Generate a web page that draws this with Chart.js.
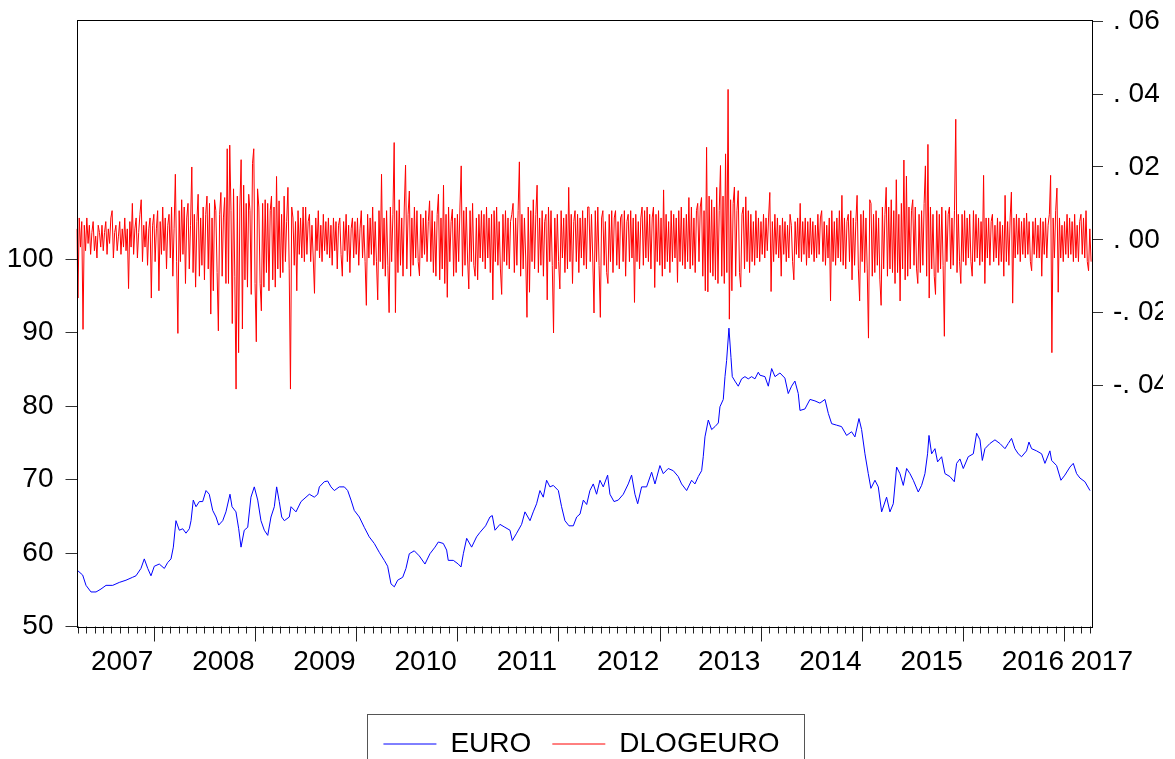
<!DOCTYPE html>
<html>
<head>
<meta charset="utf-8">
<script src="https://cdn.jsdelivr.net/npm/chart.js"></script>
<style>
  html, body { margin: 0; padding: 0; background: #fff; }
  #wrap { width: 1175px; height: 759px; overflow: hidden; }
  canvas { display: block; }
</style>
</head>
<body>
<div id="wrap"><canvas id="c" width="1175" height="759"></canvas></div>
<script>
// ---------- DATA ----------
const yearLabels = ['2007','2008','2009','2010','2011','2012','2013','2014','2015','2016','2017'];
const leftTicks = [50, 60, 70, 80, 90, 100];
const rightTicks = [-0.04, -0.02, 0, 0.02, 0.04, 0.06];
const rightTickLabels = ['-. 04', '-. 02', '. 00', '. 02', '. 04', '. 06'];

// EURO (left axis) sampled dates (fractional years) and values
const euroYears = [
2007.250,2007.299,2007.332,2007.381,2007.431,2007.480,2007.530,2007.596,2007.661,2007.727,2007.793,2007.826,2007.875,2007.908,2007.942,2007.974,
2008.007,2008.056,2008.106,2008.139,2008.172,2008.195,2008.221,2008.254,2008.288,2008.320,2008.353,2008.370,2008.392,2008.419,2008.452,2008.485,
2008.518,2008.550,2008.584,2008.617,2008.643,2008.683,2008.715,2008.755,2008.775,2008.814,2008.841,2008.864,2008.896,2008.930,2008.962,2008.995,
2009.029,2009.061,2009.094,2009.128,2009.160,2009.193,2009.216,2009.242,2009.266,2009.292,2009.341,2009.358,2009.407,2009.457,2009.506,2009.539,
2009.588,2009.622,2009.638,2009.687,2009.720,2009.753,2009.786,2009.835,2009.885,2009.918,2009.951,2009.983,2010.033,2010.082,2010.131,2010.181,
2010.230,2010.280,2010.313,2010.346,2010.379,2010.412,2010.462,2010.494,2010.527,2010.576,2010.626,
2010.682,2010.731,2010.781,2010.814,2010.863,2010.896,2010.912,2010.962,2011.011,2011.038,2011.061,2011.094,2011.143,2011.192,2011.225,2011.281,
2011.324,2011.347,2011.374,2011.423,2011.472,2011.522,2011.545,2011.588,2011.637,2011.670,2011.720,2011.752,2011.785,2011.818,2011.851,2011.884,
2011.917,2011.950,2012.000,2012.032,2012.065,2012.105,2012.148,2012.181,2012.214,2012.247,2012.280,2012.312,2012.345,2012.378,2012.411,2012.444,
2012.487,2012.510,2012.550,2012.592,2012.642,2012.691,2012.724,2012.757,2012.784,2012.823,2012.872,2012.922,2012.955,2013.004,2013.037,2013.086,
2013.136,2013.185,2013.218,2013.268,2013.317,2013.350,2013.383,2013.416,2013.432,2013.449,2013.482,2013.515,2013.548,2013.581,2013.597,2013.630,
2013.647,2013.663,2013.686,2013.706,2013.719,2013.745,2013.778,2013.811,2013.844,2013.877,2013.910,2013.943,2013.976,
2013.992,2014.042,2014.075,2014.108,2014.141,2014.190,2014.239,2014.272,2014.305,2014.338,2014.371,2014.388,2014.437,2014.487,2014.536,2014.585,
2014.635,2014.668,2014.701,2014.750,2014.799,2014.849,2014.898,2014.931,2014.971,2014.997,2015.030,2015.063,2015.089,2015.129,2015.162,2015.195,
2015.244,2015.277,2015.310,2015.343,2015.376,2015.409,2015.442,2015.475,2015.508,2015.557,2015.590,2015.623,2015.649,2015.663,2015.689,2015.722,
2015.748,2015.788,2015.821,2015.870,2015.913,2015.936,2015.969,2016.002,2016.051,2016.101,2016.134,2016.167,2016.190,2016.216,2016.265,2016.315,
2016.364,2016.414,2016.446,2016.479,2016.512,2016.545,2016.578,2016.627,2016.651,2016.677,2016.726,2016.776,2016.809,2016.858,2016.875,2016.924,
2016.967,2017.006,2017.056,2017.089,2017.122,2017.155,2017.204,2017.254
];
const euroValues = [
57.6,57.0,55.6,54.7,54.7,55.1,55.6,55.6,56.0,56.3,56.7,56.9,57.9,59.2,57.9,56.9,
58.2,58.5,57.9,58.7,59.2,60.8,64.4,63.1,63.3,62.7,63.3,64.4,67.2,66.3,67.0,67.0,
68.5,68.0,65.8,64.9,63.8,64.4,65.6,68.0,66.3,65.6,63.3,60.8,63.1,63.5,67.6,69.0,
67.2,64.4,63.1,62.4,64.9,66.3,69.0,67.0,64.9,64.4,64.9,66.3,65.6,67.0,67.6,68.0,
67.6,68.0,69.0,69.7,69.8,69.0,68.5,69.0,69.0,68.5,67.2,65.8,64.9,63.5,62.2,61.3,
60.1,59.0,58.2,55.8,55.4,56.3,56.7,57.9,59.9,60.3,59.6,
58.5,59.9,60.8,61.5,61.3,60.4,59.0,59.0,58.5,58.1,59.9,62.0,60.8,62.2,62.8,63.7,
64.9,65.1,63.1,63.9,63.5,63.1,61.7,62.7,63.9,65.6,64.4,65.6,66.7,68.5,67.6,69.9,
69.0,69.2,68.5,66.3,64.4,63.7,63.7,64.9,65.3,67.2,66.6,68.5,69.4,68.0,69.9,69.0,
70.6,68.0,67.0,67.2,68.0,69.4,70.6,68.0,66.7,69.0,69.0,71.0,69.4,71.9,70.8,71.5,
71.2,70.4,69.4,68.5,69.9,69.4,70.4,71.2,73.1,75.8,78.1,76.8,77.2,77.7,79.9,80.9,
84.0,86.2,90.6,86.6,84.0,83.4,82.7,83.7,84.0,83.7,84.0,83.7,84.6,
84.2,84.0,82.7,85.1,84.0,84.5,83.8,81.7,82.7,83.4,81.7,79.4,79.6,80.9,80.7,80.4,
80.9,79.0,77.6,77.4,77.2,76.0,76.5,75.8,78.3,76.8,73.5,70.8,68.8,69.9,69.0,65.6,
67.6,65.6,66.7,71.7,70.8,69.2,71.5,70.8,69.9,68.3,69.2,70.8,73.5,76.0,73.5,74.2,
72.4,73.1,70.8,70.4,69.7,72.2,72.8,71.5,73.1,73.5,76.3,75.4,72.6,74.2,74.9,75.4,
74.9,74.2,74.9,75.6,74.2,73.5,73.1,73.9,75.1,74.2,73.9,73.5,72.2,73.9,72.6,71.9,
69.9,70.6,71.7,72.2,70.8,70.2,69.7,68.5
];

// DLOGEURO (right axis): regular samples starting at dlogStart, every dlogStep years
const dlogStart = 2007.24;
const dlogStep = 0.0125;
const dlogEuro = [
.003,-.016,.006,-.002,.005,-.0246,.004,-.003,.006,-.001,.004,-.004,.002,.005,-.003,.001,-.005,.004,.002,-.002,
.004,-.003,.002,.005,-.004,.003,-.001,.006,.008,-.005,.002,.004,-.003,.001,.005,-.004,.003,-.002,.006,-.003,
.003,-.0134,.005,-.002,.010,-.004,.003,.006,-.005,.002,.007,.011,-.006,.004,-.002,.005,-.007,.003,.006,-.016,
.004,.007,-.006,.003,.008,-.014,.005,-.004,.009,-.003,.006,-.008,.004,.007,-.005,.009,-.010,.003,.018,-.006,
-.0257,.008,-.006,.011,-.004,.009,-.012,.006,.010,-.008,.004,.020,-.009,.007,-.013,.005,.0125,-.010,.006,-.007,
.009,-.011,.007,.012,-.008,.010,-.0204,.006,-.014,.011,.008,-.009,-.025,.007,.013,-.010,.006,.0116,-.012,.025,
-.012,.026,.008,-.023,.014,-.010,-.041,.012,-.031,.009,.022,-.0245,.015,-.011,.010,-.013,.0125,.008,-.015,.021,
.025,-.012,-.028,.014,.009,-.012,-.0195,.010,-.013,.011,-.009,.010,-.014,.008,.012,-.011,.009,-.013,.0174,-.008,
.0107,-.0104,.007,-.009,.012,-.006,.005,.0144,-.008,-.041,.009,.006,-.007,.005,-.014,.008,-.004,.006,-.005,.009,
-.006,.009,-.004,.005,.007,-.006,.004,-.005,-.0147,.006,-.003,.008,-.005,.004,-.006,.007,-.003,.005,-.004,.006,
-.005,.004,-.007,.006,-.003,.005,-.008,.004,.006,-.004,-.010,.005,-.003,.007,-.006,.004,-.009,.003,.006,-.005,
.005,-.004,.006,-.007,.003,.008,-.005,.004,-.006,-.018,.007,-.005,.006,-.004,.009,-.007,.005,-.006,-.0165,.008,
-.006,.018,-.008,.006,-.010,.008,-.007,-.020,.009,-.006,.007,.0267,-.020,.008,-.009,.011,-.007,.006,-.010,.009,
.0205,-.008,.007,.0134,-.010,.006,-.007,.009,-.005,.008,-.006,-.0099,.007,-.005,.006,-.004,.008,-.006,.005,.0107,
-.006,.008,-.009,.005,-.010,.007,.0125,-.011,.006,-.008,.015,-.012,.007,-.0158,.009,-.006,.005,.0084,-.010,.006,
-.009,.007,-.006,.009,.0203,-.010,.008,-.007,.009,-.005,-.0135,.008,-.006,.010,-.007,-.010,.006,-.011,.007,-.005,
.008,-.006,.007,-.008,.009,-.005,.006,-.009,.007,-.0165,.008,-.006,.009,-.007,.005,-.008,-.015,.007,-.006,.008,
-.007,.006,-.008,.005,.007,.010,-.009,.006,-.007,.008,.0214,-.010,.007,-.008,.006,-.005,-.0213,.009,-.0144,.008,
-.006,.011,-.008,.007,.015,-.009,.006,-.007,.008,-.010,.005,.007,-.0165,.009,-.006,.008,-.007,-.0256,.006,-.008,
.007,-.006,-.0135,.008,-.005,.006,-.009,.007,-.008,.0144,-.006,.007,-.012,.005,.008,-.006,.007,-.009,.006,-.005,
.008,-.007,.006,-.008,.009,.009,-.006,.007,-.005,-.0201,.008,-.006,.009,-.007,-.0213,.006,.008,-.007,.005,-.009,
-.012,.007,-.006,.008,-.009,.006,.008,-.007,.005,-.008,.006,.007,-.006,.008,-.010,.005,.007,-.006,.008,-.005,
.006,-.0172,.007,-.006,.005,-.008,.006,.009,-.007,.008,-.005,.009,-.006,.007,-.008,.006,.009,-.0131,.007,-.006,
.008,-.007,.006,-.010,.0137,-.008,.007,-.006,.005,-.009,.008,-.006,.007,-.005,.006,-.0117,.008,-.006,.009,-.007,
.006,-.008,.007,-.006,.0116,-.008,.009,-.007,.006,-.009,.008,.010,-.006,.009,.0116,-.010,.008,-.014,.0254,-.0143,
.012,-.009,.011,-.010,.009,-.011,.0144,-.012,.008,.0204,-.010,.012,-.012,.0236,-.009,.0413,-.0218,.011,-.014,.010,
.0145,-.010,.008,.0135,-.009,-.013,.007,.009,-.008,.0118,-.006,.008,-.009,.007,-.006,.005,-.007,.008,-.005,.006,
-.006,.005,-.004,.007,-.005,.006,-.003,.006,.013,-.0142,.005,-.006,.007,-.004,.006,-.005,.004,-.010,.006,-.004,
.005,-.006,.004,-.005,.007,.004,-.006,-.011,.005,-.004,.006,-.005,.010,-.006,.005,-.004,.006,-.007,.005,-.005,
.006,-.004,.005,-.006,.004,-.005,.007,-.004,.006,.008,-.006,.005,-.007,.004,-.005,.006,-.0168,.008,-.006,.005,
-.007,.006,-.005,.008,-.006,.0122,-.007,.006,-.008,.005,.007,-.006,.008,-.011,.006,-.007,.005,.0122,-.008,-.0168,
.007,-.006,.008,-.009,.006,-.008,-.027,.011,.010,-.010,.007,-.009,.008,-.007,.006,-.011,-.018,.009,-.008,.007,
.0144,-.010,.009,-.008,.011,-.009,.008,-.012,.0165,-.009,.007,-.0168,.010,-.008,.0219,-.011,.0175,-.010,.009,-.008,
.008,.011,-.007,.009,-.008,-.012,.007,-.009,.008,-.007,.010,.0203,-.010,.0262,-.016,.009,-.008,.007,-.010,-.015,
.008,-.009,.007,-.008,.009,-.007,-.0265,.008,-.006,.007,.009,-.008,.006,-.007,.008,.0331,-.009,.007,-.006,-.012,
.007,-.006,.008,-.007,.006,-.005,.007,-.006,-.010,.008,-.006,.007,-.005,.006,-.007,.005,-.006,.0177,-.012,.006,
-.005,.006,-.007,.005,.007,-.006,.004,-.005,.006,-.007,.005,-.006,.004,-.010,.0122,-.006,.005,-.007,.006,.0131,
-.0174,.006,-.005,.007,-.004,.006,-.006,.005,-.004,.006,-.005,.0073,-.004,.005,-.006,-.0085,.005,-.004,.006,-.005,
.004,-.005,.006,-.010,.005,-.004,.006,-.005,.004,.007,.0177,-.031,.006,-.005,.008,.0142,-.0144,.006,-.005,.004,
-.006,.005,-.004,.007,-.005,.006,-.004,.005,-.006,.007,-.005,.004,-.006,.005,.007,-.004,.006,-.005,.008,-.006,
-.0085,.003,-.006
];

// ---------- CHART ----------
const FONT = "'Liberation Sans', Arial, Helvetica, sans-serif";
Chart.defaults.font.family = FONT;
Chart.defaults.color = '#000';

const xMin = 2007.238, xMax = 2017.274;
// each year label is right-aligned to the following January tick; the last one sits after its tick
const labelHalfYears = 0.311;
const xLabelValues = yearLabels.map((y, i) =>
  i < yearLabels.length - 1 ? Number(y) + 1 - labelHalfYears : Number(y) + 0.06 + labelHalfYears);

const noPad = s => { s.paddingTop = 0; s.paddingBottom = 0; s.paddingLeft = 0; s.paddingRight = 0; };

const framePlugin = {
  id: 'frame',
  afterDraw(chart) {
    const { ctx, chartArea: a, scales } = chart;
    const xs = scales.x;
    ctx.save();
    ctx.lineWidth = 1;
    // month / year tick marks on the time axis
    ctx.strokeStyle = '#222';
    ctx.beginPath();
    for (let y = Math.floor(xs.min); y <= Math.ceil(xs.max); y++) {
      for (let m = 0; m < 12; m++) {
        const v = y + m / 12;
        if (v <= xs.min || v >= xs.max) continue;
        const px = Math.round(xs.getPixelForValue(v)) + 0.5;
        ctx.moveTo(px, a.bottom);
        ctx.lineTo(px, a.bottom + (m === 0 ? 15 : 7));
      }
    }
    ctx.stroke();
    // plot frame
    ctx.strokeStyle = '#000';
    ctx.strokeRect(Math.round(a.left) + 0.5, Math.round(a.top) + 0.5,
                   Math.round(a.right) - Math.round(a.left), Math.round(a.bottom) - Math.round(a.top));
    // legend frame
    const lg = chart.legend;
    if (lg && lg.legendHitBoxes && lg.legendHitBoxes.length) {
      const hb = lg.legendHitBoxes;
      const l = hb[0].left - 16;
      const last = hb[hb.length - 1];
      const r = last.left + last.width + 25;
      const t = lg.top + 5;
      ctx.strokeStyle = '#555';
      ctx.strokeRect(Math.round(l) + 0.5, Math.round(t) + 0.5, Math.round(r - l), 80);
    }
    ctx.restore();
  }
};

new Chart(document.getElementById('c'), {
  type: 'line',
  data: {
    datasets: [
      {
        label: 'EURO',
        data: euroYears.map((x, i) => ({ x, y: euroValues[i] })),
        yAxisID: 'yL',
        borderColor: '#0000ff',
        backgroundColor: '#0000ff',
        borderWidth: 1,
        pointRadius: 0,
        tension: 0,
        fill: false
      },
      {
        label: 'DLOGEURO',
        data: dlogEuro.map((y, i) => ({ x: dlogStart + i * dlogStep, y })),
        yAxisID: 'yR',
        borderColor: '#ff0000',
        backgroundColor: '#ff0000',
        borderWidth: 1,
        pointRadius: 0,
        tension: 0,
        fill: false
      }
    ]
  },
  options: {
    responsive: false,
    animation: false,
    devicePixelRatio: 1,
    events: [],
    layout: { padding: { top: 19.5, left: 0, right: 12, bottom: -9 } },
    plugins: {
      tooltip: { enabled: false },
      legend: {
        position: 'bottom',
        labels: {
          usePointStyle: true,
          pointStyle: 'line',
          pointStyleWidth: 53,
          padding: 21,
          color: '#000',
          font: { size: 28, family: FONT }
        }
      }
    },
    scales: {
      x: {
        type: 'linear',
        position: 'bottom',
        min: xMin,
        max: xMax,
        grid: { display: false, drawTicks: false },
        border: { display: false },
        afterBuildTicks: s => { s.ticks = xLabelValues.map(v => ({ value: v })); },
        afterFit: s => { s.height = 82.5; noPad(s); },
        ticks: {
          autoSkip: false,
          maxRotation: 0,
          minRotation: 0,
          padding: 19,
          color: '#000',
          font: { size: 28, family: FONT },
          callback: (v, i) => yearLabels[i]
        }
      },
      yL: {
        type: 'linear',
        position: 'left',
        min: 50,
        max: 132.6,
        afterBuildTicks: s => { s.ticks = leftTicks.map(v => ({ value: v })); },
        afterFit: s => { s.width = 76.5; noPad(s); },
        grid: { drawOnChartArea: false, drawTicks: true, tickLength: 11, tickColor: '#333', tickWidth: 1 },
        border: { display: false },
        ticks: {
          padding: 12,
          color: '#000',
          font: { size: 28, family: FONT },
          callback: v => String(v)
        }
      },
      yR: {
        type: 'linear',
        position: 'right',
        min: -0.1062,
        max: 0.0605,
        afterBuildTicks: s => { s.ticks = rightTicks.map(v => ({ value: v })); },
        afterFit: s => { s.width = 71; noPad(s); },
        grid: { drawOnChartArea: false, drawTicks: true, tickLength: 11, tickColor: '#333', tickWidth: 1 },
        border: { display: false },
        ticks: {
          padding: 10,
          color: '#000',
          font: { size: 28, family: FONT },
          callback: (v, i) => rightTickLabels[i]
        }
      }
    }
  },
  plugins: [framePlugin]
});
</script>
</body>
</html>
